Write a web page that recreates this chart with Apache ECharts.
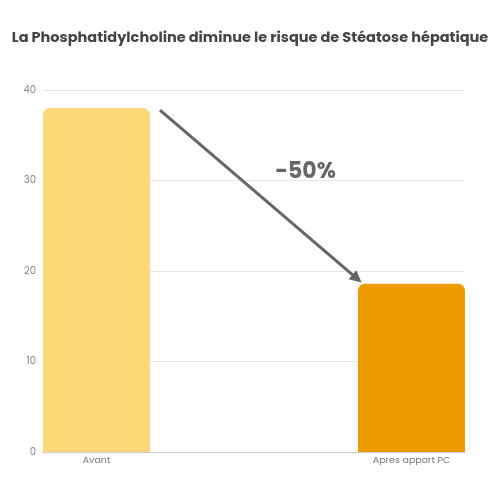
<!DOCTYPE html>
<html>
<head>
<meta charset="utf-8">
<script src="https://cdn.jsdelivr.net/npm/echarts@6/dist/echarts.min.js"></script>
<style>
  html, body { margin: 0; padding: 0; background: #fff; }
  #app { width: 500px; height: 500px; }
</style>
</head>
<body>
<div id="app"></div>
<script>
var titleText = 'La Phosphatidylcholine diminue le risque de Stéatose hépatique';
var categories = ['Avant', 'Apres apport PC'];
var values = [38, 18.6];
var barColors = ['#FED776', '#EE9A00'];
var reductionLabel = '-50%';
var yMin = 0, yMax = 40, yStep = 10;

var textColor = '#666';
var fontFamily = 'Poppins, Roboto, "Noto Sans", sans-serif';

var myChart = echarts.init(document.getElementById('app'));

// one series per category so the bars sit flush to the grid edges
var series = categories.map(function (name, i) {
  return {
    name: name,
    type: 'bar',
    barWidth: '50.7%',
    barGap: '-2.8%',
    data: categories.map(function (c, j) { return j === i ? values[i] : '-'; }),
    itemStyle: {
      color: barColors[i],
      borderRadius: [7, 7, 0, 0]
    },
    label: {
      show: true,
      position: 'bottom',
      distance: 4,
      color: '#777',
      fontSize: 9.5,
      fontFamily: fontFamily,
      formatter: function (p) { return p.name; }
    }
  };
});

myChart.setOption({
  backgroundColor: '#fff',
  animation: false,
  title: {
    text: titleText,
    left: 'center',
    top: 26,
    textStyle: {
      color: '#444',
      fontSize: 14.5,
      fontWeight: 'bold',
      fontFamily: fontFamily
    }
  },
  grid: {
    left: 43,
    right: 35,
    top: 90,
    bottom: 48
  },
  xAxis: {
    type: 'category',
    data: categories,
    axisLine: { lineStyle: { color: '#ccc' } },
    axisTick: { show: false },
    axisLabel: { show: false }
  },
  yAxis: {
    type: 'value',
    min: yMin,
    max: yMax,
    interval: yStep,
    axisLine: { show: false },
    axisTick: { show: false },
    axisLabel: {
      color: '#888',
      fontSize: 10,
      margin: 7,
      fontFamily: fontFamily
    },
    splitLine: { lineStyle: { color: '#e6e6e6' } }
  },
  series: series
});

// arrow and "-50%" placed from the drawn bars
var l0 = myChart.getModel().getSeriesByIndex(0).getData().getItemLayout(0);
var l1 = myChart.getModel().getSeriesByIndex(1).getData().getItemLayout(1);
var top0 = Math.min(l0.y, l0.y + l0.height);
var top1 = Math.min(l1.y, l1.y + l1.height);
var start = [l0.x + l0.width + 10, top0 + 2];
var end = [l1.x - 1, top1 - 5];

myChart.setOption({
  series: [{
    markLine: {
      silent: true,
      symbol: ['none', 'triangle'],
      symbolSize: [12, 12],
      label: { show: false },
      lineStyle: { color: textColor, width: 3, type: 'solid' },
      data: [[{ x: start[0], y: start[1] }, { x: end[0], y: end[1] }]]
    }
  }],
  graphic: [{
    type: 'text',
    x: (start[0] + end[0]) / 2 + 47,
    y: (start[1] + end[1]) / 2 - 22,
    style: {
      text: reductionLabel,
      fill: textColor,
      font: 'bold 22px ' + fontFamily,
      textAlign: 'center',
      textVerticalAlign: 'middle'
    }
  }]
});
</script>
</body>
</html>
